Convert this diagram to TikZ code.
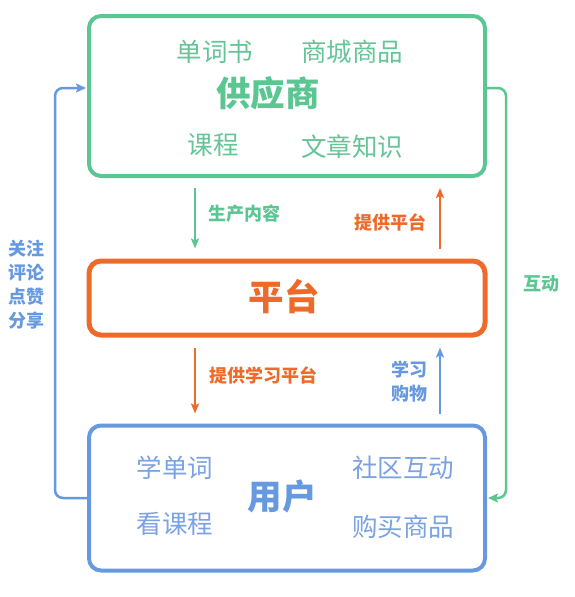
\documentclass[tikz,border=0pt]{standalone}
\usepackage{fontspec}
\setmainfont{Noto Sans CJK SC}
\usetikzlibrary{arrows.meta}
\definecolor{gc}{HTML}{5CC693}
\definecolor{gt}{HTML}{66C598}
\definecolor{oc}{HTML}{EE6A2B}
\definecolor{bc}{HTML}{6699E0}
\definecolor{bt}{HTML}{7BA2E2}
\tikzset{
  boxstyle/.style={rounded corners=12pt, minimum width=396pt, inner sep=0pt, fill=white},
  item/.style={font=\fontsize{25.5}{28}\selectfont, inner sep=0pt},
  title/.style={font=\fontsize{34.5}{38}\selectfont\bfseries, inner sep=0pt},
  lab/.style={font=\fontsize{18}{24}\selectfont\bfseries, inner sep=0pt, align=center},
  arr/.style={line width=2pt, -{Stealth[length=10pt,width=8pt,inset=2pt]}, shorten <=10pt, shorten >=10pt},
  side/.style={line width=2.5pt, rounded corners=8pt, -{Stealth[length=10pt,width=9pt,inset=2pt]}}
}
\begin{document}
\begin{tikzpicture}[x=1pt,y=1pt]
\useasboundingbox (0,0) rectangle (574,-597);
\node[boxstyle, draw=gc, line width=4pt, minimum height=160pt] (top) at (287,-96) {};
\node[boxstyle, draw=oc, line width=5pt, minimum height=74pt] (mid) at (287,-298) {};
\node[boxstyle, draw=bc, line width=4pt, minimum height=145pt] (bot) at (287,-498) {};
% top box texts
\node[item, text=gt] (t1) at (215,-52) {单词书};
\node[item, text=gt] (t2) at (352,-52) {商城商品};
\node[title, text=gc] (t0) at (268,-93) {供应商};
\node[item, text=gt] (t3) at (213,-145) {课程};
\node[item, text=gt] (t4) at (352,-147) {文章知识};
% middle
\node[title, text=oc, font=\fontsize{35.5}{40}\selectfont\bfseries] (m0) at (284,-297) {平台};
% bottom
\node[item, text=bt] (b1) at (175,-468) {学单词};
\node[item, text=bt] (b2) at (175,-524) {看课程};
\node[title, text=bc] (b0) at (282,-496) {用户};
\node[item, text=bt] (b3) at (403,-468) {社区互动};
\node[item, text=bt] (b4) at (403,-527) {购买商品};
% column coordinates
\coordinate (cl) at (195,0);
\coordinate (cr) at (440,0);
% vertical arrows
\draw[arr, gc] (top.south -| cl) -- (mid.north -| cl);
\draw[arr, oc] (mid.north -| cr) -- (top.south -| cr);
\draw[arr, oc] (mid.south -| cl) -- (bot.north -| cl);
\draw[arr, bc] (bot.north -| cr) -- (mid.south -| cr);
% labels
\node[lab, text=gc] (l1) at (244,-214) {生产内容};
\node[lab, text=oc] (l2) at (390,-222) {提供平台};
\node[lab, text=oc] (l3) at (263,-375) {提供学习平台};
\node[lab, text=bc] (l4) at (409,-382) {学习\\购物};
\node[lab, text=bc] (l5) at (27,-285) {关注\\评论\\点赞\\分享};
\node[lab, text=gc] (l6) at (541,-284) {互动};
% side connectors
\coordinate (lx) at (55,0);
\coordinate (rx) at (506,0);
\draw[side, bc] (bot.west) -- (bot.west -| lx) -- ([yshift=8pt]top.west -| lx) -- ([yshift=8pt,xshift=-1pt]top.west);
\draw[side, gc] ([yshift=8pt]top.east) -- ([yshift=8pt]top.east -| rx) -- (bot.east -| rx) -- ([xshift=1pt]bot.east);
\end{tikzpicture}
\end{document}
